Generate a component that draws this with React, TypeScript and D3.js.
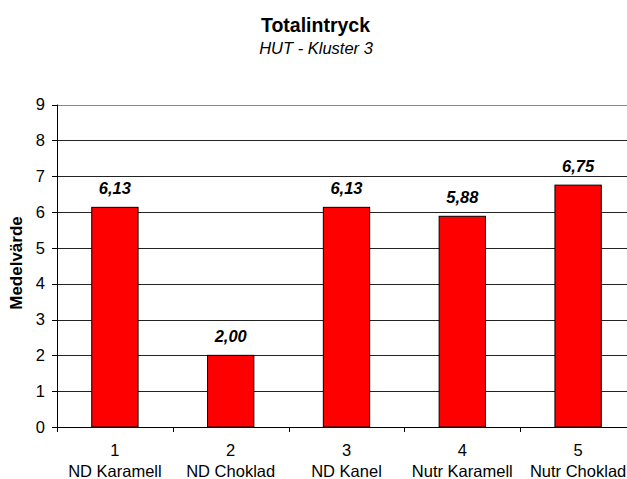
import React from "react";
import * as d3 from "d3";

const categories = ["1", "2", "3", "4", "5"];
const names = ["ND Karamell", "ND Choklad", "ND Kanel", "Nutr Karamell", "Nutr Choklad"];
const values = [6.13, 2.0, 6.13, 5.88, 6.75];
const yTicks = [0, 1, 2, 3, 4, 5, 6, 7, 8, 9];

const W = 627;
const H = 479;
const left = 57;
const plotRight = 636;
const top = 104.5;
const bottom = 427;
const font = "'Liberation Sans', Arial, sans-serif";

export default function App() {
  const x = d3
    .scaleBand<string>()
    .domain(categories)
    .range([left, plotRight])
    .paddingInner(0.6)
    .paddingOuter(0.3);
  const y = d3.scaleLinear().domain([0, 9]).range([bottom, top]);
  const step = x.step();
  const fmt = (v: number) => v.toFixed(2).replace(".", ",");

  return (
    <div style={{ position: "absolute", left: 0, top: 0 }}>
      <svg width={W} height={H} style={{ display: "block", background: "#fff" }}>
        <text x={315.5} y={32} textAnchor="middle" fontFamily={font} fontWeight="bold" fontSize={19.5}>
          Totalintryck
        </text>
        <text x={316} y={53.5} textAnchor="middle" fontFamily={font} fontStyle="italic" fontSize={16.5}>
          HUT - Kluster 3
        </text>

        {yTicks.slice(1).map((t) => (
          <line
            key={"g" + t}
            x1={left}
            x2={W}
            y1={Math.round(y(t)) + 0.5}
            y2={Math.round(y(t)) + 0.5}
            stroke={t === 9 ? "#888" : "#222"}
            strokeWidth={1}
          />
        ))}

        {categories.map((c, i) => (
          <rect
            key={"b" + c}
            x={x(c)!}
            y={y(values[i])}
            width={x.bandwidth()}
            height={y(0) - y(values[i])}
            fill="#ff0000"
            stroke="#000"
            strokeWidth={1}
          />
        ))}

        {categories.map((c, i) => (
          <text
            key={"l" + c}
            x={x(c)! + x.bandwidth() / 2}
            y={y(values[i]) - 13}
            textAnchor="middle"
            fontFamily={font}
            fontWeight="bold"
            fontStyle="italic"
            fontSize={16.5}
          >
            {fmt(values[i])}
          </text>
        ))}

        <line x1={left + 0.5} x2={left + 0.5} y1={top} y2={bottom} stroke="#000" />
        <line x1={left} x2={W} y1={bottom + 0.5} y2={bottom + 0.5} stroke="#000" />

        {yTicks.map((t) => (
          <g key={"t" + t}>
            <line x1={left - 5} x2={left} y1={Math.round(y(t)) + 0.5} y2={Math.round(y(t)) + 0.5} stroke="#000" />
            <text x={45} y={y(t) + 5.8} textAnchor="end" fontFamily={font} fontSize={16.5}>
              {t}
            </text>
          </g>
        ))}

        {categories.map((c, i) => {
          const x0 = left + i * step;
          return (
            <line key={"xt" + c} x1={Math.round(x0) + 0.5} x2={Math.round(x0) + 0.5} y1={bottom} y2={bottom + 5} stroke="#000" />
          );
        })}

        {categories.map((c, i) => {
          const cx = x(c)! + x.bandwidth() / 2;
          return (
            <g key={"xl" + c}>
              <text x={cx} y={456} textAnchor="middle" fontFamily={font} fontSize={16.5}>
                {c}
              </text>
              <text x={cx} y={477} textAnchor="middle" fontFamily={font} fontSize={16.5}>
                {names[i]}
              </text>
            </g>
          );
        })}

        <text
          transform={`translate(22, 263) rotate(-90)`}
          textAnchor="middle"
          fontFamily={font}
          fontWeight="bold"
          fontSize={17}
        >
          Medelvärde
        </text>
      </svg>
    </div>
  );
}
